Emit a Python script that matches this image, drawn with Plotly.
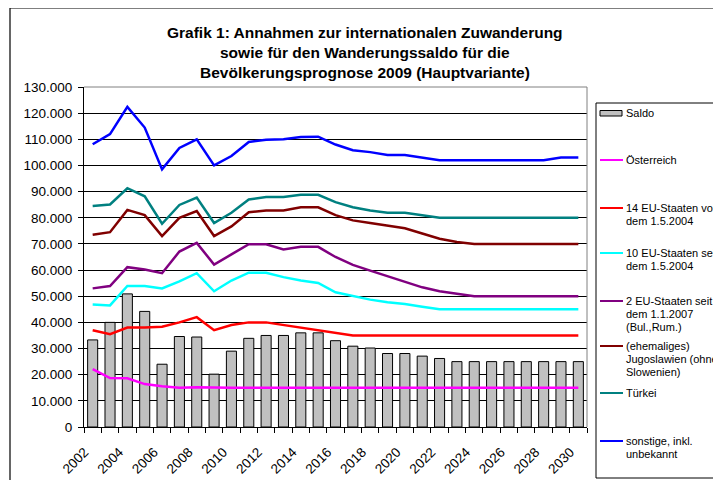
import plotly.graph_objects as go

years = list(range(2002, 2031))

saldo = [33300, 40000, 50900, 44200, 24000, 34600, 34400, 20200, 29000, 33900,
         35000, 35000, 36000, 36000, 33000, 30900, 30200, 28100, 28100, 27100,
         26200, 25000, 25000, 25000, 25000, 25000, 25000, 25000, 25000]

oesterreich = [22100, 18700, 18600, 16400, 15600, 15000, 15200, 15000, 15000, 15000,
               15000, 15000, 15000, 15000, 15000, 15000, 15000, 15000, 15000, 15000,
               15000, 15000, 15000, 15000, 15000, 15000, 15000, 15000, 15000]

eu14 = [37000, 35500, 38000, 38000, 38300, 40000, 42000, 37000, 39000, 40000,
        40000, 39000, 38000, 37000, 36000, 35000, 35000, 35000, 35000, 35000,
        35000, 35000, 35000, 35000, 35000, 35000, 35000, 35000, 35000]

eu10 = [46800, 46500, 53900, 53900, 53000, 55700, 58800, 51900, 56000, 59000,
        59000, 57300, 56000, 55100, 51500, 50000, 48700, 47700, 47000, 46000,
        45000, 45000, 45000, 45000, 45000, 45000, 45000, 45000, 45000]

eu2 = [53000, 53900, 61100, 60200, 58800, 67100, 70400, 62100, 66000, 69900,
       69900, 67900, 68900, 68900, 65000, 62000, 59800, 57600, 55400, 53400,
       51900, 50900, 50000, 50000, 50000, 50000, 50000, 50000, 50000]

jugoslawien = [73500, 74500, 83000, 81000, 73000, 80000, 82600, 73000, 76700, 82100,
               82800, 82800, 84000, 84000, 81000, 79000, 78000, 77000, 76000, 74000,
               72000, 70700, 70000, 70000, 70000, 70000, 70000, 70000, 70000]

tuerkei = [84500, 85100, 91300, 88200, 77700, 84900, 87700, 78000, 81900, 87000,
           87900, 87900, 88800, 88800, 86000, 84000, 82800, 81900, 81900, 80900,
           80000, 80000, 80000, 80000, 80000, 80000, 80000, 80000, 80000]

sonstige = [108100, 112000, 122400, 114500, 98500, 106700, 110000, 100000, 103600, 109000,
            109800, 110000, 110900, 111000, 108000, 105800, 105100, 104000, 104000, 103000,
            102000, 102000, 102000, 102000, 102000, 102000, 102000, 103000, 103000]

y_ticks = list(range(0, 130001, 10000))
x_label_years = list(range(2002, 2031, 2))

title_lines = ["Grafik 1: Annahmen zur internationalen Zuwanderung",
               "sowie für den Wanderungssaldo für die",
               "Bevölkerungsprognose 2009 (Hauptvariante)"]

series = [
    ("Österreich", oesterreich, "#FF00FF", ["Österreich"]),
    ("14 EU-Staaten vor dem 1.5.2004", eu14, "#FF0000", ["14 EU-Staaten vor", "dem 1.5.2004"]),
    ("10 EU-Staaten seit dem 1.5.2004", eu10, "#00FFFF", ["10 EU-Staaten seit", "dem 1.5.2004"]),
    ("2 EU-Staaten seit dem 1.1.2007 (Bul.,Rum.)", eu2, "#800080",
     ["2 EU-Staaten seit", "dem 1.1.2007", "(Bul.,Rum.)"]),
    ("(ehemaliges) Jugoslawien (ohne Slowenien)", jugoslawien, "#800000",
     ["(ehemaliges)", "Jugoslawien (ohne", "Slowenien)"]),
    ("Türkei", tuerkei, "#008080", ["Türkei"]),
    ("sonstige, inkl. unbekannt", sonstige, "#0000FF", ["sonstige, inkl.", "unbekannt"]),
]

OFF = 8  # page body margin
W, H = 721 - OFF, 480 - OFF
# screen-pixel layout of plot area
L, R, T, B = 84, 587, 87, 427
FONT = "Liberation Sans, Arial, sans-serif"


def px(xp):
    return (xp - L) / (R - L)


def py(yp):
    return (B - yp) / (B - T)


fig = go.Figure()
fig.add_trace(go.Bar(x=years, y=saldo, name="Saldo", marker=dict(color="#C0C0C0",
                     line=dict(color="black", width=1)), showlegend=False))
for name, vals, col, _ in series:
    fig.add_trace(go.Scatter(x=years, y=vals, name=name, mode="lines",
                             line=dict(color=col, width=2.5), showlegend=False))

shapes = []
annotations = []

# chart border
shapes.append(dict(type="rect", xref="paper", yref="paper", x0=px(10), x1=px(760),
                   y0=py(8), y1=py(520), line=dict(color="black", width=1.2)))
# plot area top/right border
shapes.append(dict(type="line", xref="paper", yref="paper", x0=0, x1=1, y0=1, y1=1,
                   line=dict(color="#808080", width=1)))
shapes.append(dict(type="line", xref="paper", yref="paper", x0=1, x1=1, y0=0, y1=1,
                   line=dict(color="#808080", width=1)))
# legend box
shapes.append(dict(type="rect", xref="paper", yref="paper", x0=px(596), x1=px(760),
                   y0=py(103), y1=py(478), line=dict(color="black", width=1)))

# legend: Saldo
shapes.append(dict(type="rect", xref="paper", yref="paper", x0=px(600), x1=px(622),
                   y0=py(110.5), y1=py(116), fillcolor="#C0C0C0",
                   line=dict(color="black", width=1)))
annotations.append(dict(xref="paper", yref="paper", x=px(624), y=py(113), text="Saldo",
                        showarrow=False, xanchor="left", yanchor="middle",
                        font=dict(family=FONT, size=11, color="black")))

legend_y = [160, 208, 253, 301, 346, 393, 441]
line_gap = 12.8
for (name, vals, col, lines), ly in zip(series, legend_y):
    shapes.append(dict(type="line", xref="paper", yref="paper", x0=px(600), x1=px(623),
                       y0=py(ly), y1=py(ly), line=dict(color=col, width=2)))
    for i, t in enumerate(lines):
        annotations.append(dict(xref="paper", yref="paper", x=px(624), y=py(ly + i * line_gap),
                                text=t, showarrow=False, xanchor="left", yanchor="middle",
                                font=dict(family=FONT, size=11, color="black")))

# title
for i, t in enumerate(title_lines):
    annotations.append(dict(xref="paper", yref="paper", x=px(365), y=py(33 + i * 20),
                            text="<b>" + t + "</b>", showarrow=False, xanchor="center",
                            yanchor="middle", font=dict(family=FONT, size=15.5, color="black")))

fig.update_layout(
    width=W, height=H,
    margin=dict(l=L - OFF, r=W - (R - OFF), t=T - OFF, b=H - (B - OFF), pad=0),
    paper_bgcolor="white", plot_bgcolor="white",
    separators=",.",
    bargap=0.42,
    showlegend=False,
    font=dict(family=FONT, size=13, color="black"),
    shapes=shapes, annotations=annotations,
    xaxis=dict(type="linear", range=[2001.5, 2030.5], tickmode="array",
               tickvals=x_label_years, ticktext=[str(v) for v in x_label_years],
               tickangle=-45, ticks="", showgrid=False, zeroline=False,
               showline=True, linecolor="black", linewidth=1, automargin=False,
               ticklabelstandoff=11, ticklabelshift=-8,
               tickfont=dict(family=FONT, size=13.5, color="black"),
               minor=dict(tickmode="array", tickvals=[y + 0.5 for y in range(2001, 2031)],
                          ticks="outside", ticklen=5, tickcolor="black", showgrid=False)),
    yaxis=dict(range=[0, 130000], tickmode="array", tickvals=y_ticks, tickformat=",d",
               showgrid=True, gridcolor="black", gridwidth=1, zeroline=False,
               showline=True, linecolor="black", linewidth=1, automargin=False,
               ticks="outside", ticklen=5, tickcolor="black", ticklabelstandoff=3,
               tickfont=dict(family=FONT, size=13.5, color="black")),
)

fig.write_html("out.html")
